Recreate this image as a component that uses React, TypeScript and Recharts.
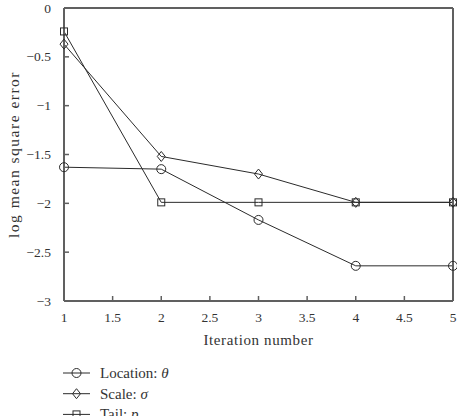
import React from 'react';
import { LineChart, Line, XAxis, YAxis, Legend } from 'recharts';

const iterations = [1, 2, 3, 4, 5];
const locationTheta = [-1.63, -1.65, -2.17, -2.64, -2.64];
const scaleSigma = [-0.37, -1.52, -1.7, -1.99, -1.99];
const tailP = [-0.24, -1.99, -1.99, -1.99, -1.99];
const xTicks = [1, 1.5, 2, 2.5, 3, 3.5, 4, 4.5, 5];
const yTicks = [0, -0.5, -1, -1.5, -2, -2.5, -3];
const seriesKeys = ['loc', 'scale', 'tail'];
const seriesNames = ['Location', 'Scale', 'Tail'];
const seriesSymbols = ['θ', 'σ', 'p'];
const seriesMarkers = ['circle', 'diamond', 'square'];

const data = iterations.map((it, i) => ({
  it,
  loc: locationTheta[i],
  scale: scaleSigma[i],
  tail: tailP[i],
}));

const LINE = '#2b2b2b';
const AXIS = '#606060';
const TEXT = '#333333';
const FONT = '"Liberation Serif", "DejaVu Serif", serif';
const textStyle = { fontFamily: FONT, fontSize: 13.5, fill: TEXT };
const axisLineStyle = { stroke: AXIS, strokeWidth: 2 };
const tickLineStyle = { stroke: AXIS, strokeWidth: 1.5 };

const fmt = (v: number) => String(v).replace('-', '\u2212');

const Marker = ({ kind, cx, cy }: { kind: string; cx: number; cy: number }) => {
  if (kind === 'circle') {
    return <circle cx={cx} cy={cy} r={4.5} fill="none" stroke={LINE} strokeWidth={1} />;
  }
  if (kind === 'diamond') {
    return (
      <polygon
        points={`${cx},${cy - 5} ${cx + 4},${cy} ${cx},${cy + 5} ${cx - 4},${cy}`}
        fill="none"
        stroke={LINE}
        strokeWidth={1}
      />
    );
  }
  return <rect x={cx - 3.5} y={cy - 3.5} width={7} height={7} fill="none" stroke={LINE} strokeWidth={1} />;
};

const makeDot = (kind: string) => (props: any) => (
  <Marker key={`${kind}-${props.index}`} kind={kind} cx={props.cx} cy={props.cy} />
);

const renderXTick = (props: any) => {
  const { x, y, payload } = props;
  return (
    <text key={`xt-${payload.value}`} x={x} y={y + 10} textAnchor="middle" style={textStyle}>
      {fmt(payload.value)}
    </text>
  );
};

const renderYTick = (props: any) => {
  const { x, y, payload } = props;
  return (
    <text key={`yt-${payload.value}`} x={x} y={y + 4.5} textAnchor="end" style={textStyle}>
      {fmt(payload.value)}
    </text>
  );
};

const renderLegend = () => (
  <svg width={200} height={64} style={{ display: 'block', overflow: 'visible' }}>
    {seriesNames.map((n, i) => {
      const y = 10 + i * 20.7;
      return (
        <g key={n}>
          <line x1={63} x2={90} y1={y} y2={y} stroke={LINE} strokeWidth={1} />
          <Marker kind={seriesMarkers[i]} cx={76.5} cy={y} />
          <text x={100} y={y + 5} style={{ fontFamily: FONT, fontSize: 15, fill: TEXT }}>
            {n}: <tspan style={{ fontStyle: 'italic' }}>{seriesSymbols[i]}</tspan>
          </text>
        </g>
      );
    })}
  </svg>
);

export default function App() {
  return (
    <div style={{ position: 'absolute', left: 0, top: 0, fontFamily: FONT }}>
      <LineChart
        width={457}
        height={416}
        data={data}
        margin={{ top: 7, right: 3, left: 0, bottom: 85 }}
      >
        <XAxis
          xAxisId="bottom"
          dataKey="it"
          type="number"
          domain={[1, 5]}
          ticks={xTicks}
          interval={0}
          height={30}
          tickSize={-5}
          tickMargin={16}
          tick={renderXTick}
          axisLine={axisLineStyle}
          tickLine={tickLineStyle}
          label={{
            value: 'Iteration number',
            position: 'bottom',
            offset: 3,
            style: { fontFamily: FONT, fontSize: 15, letterSpacing: 0.6, fill: TEXT },
          }}
        />
        <XAxis
          xAxisId="top"
          orientation="top"
          dataKey="it"
          type="number"
          domain={[1, 5]}
          ticks={xTicks}
          interval={0}
          height={1}
          tickSize={-5}
          tick={false}
          axisLine={axisLineStyle}
          tickLine={tickLineStyle}
        />
        <YAxis
          yAxisId="left"
          type="number"
          domain={[-3, 0]}
          ticks={yTicks}
          interval={0}
          width={64}
          tickSize={-5}
          tickMargin={18}
          tick={renderYTick}
          axisLine={axisLineStyle}
          tickLine={tickLineStyle}
          label={{
            value: 'log mean square error',
            angle: -90,
            position: 'insideLeft',
            offset: 13,
            style: { fontFamily: FONT, fontSize: 15.5, letterSpacing: 1.5, fill: TEXT, textAnchor: 'middle' },
          }}
        />
        <YAxis
          yAxisId="right"
          orientation="right"
          type="number"
          domain={[-3, 0]}
          ticks={yTicks}
          interval={0}
          width={1}
          tickSize={-5}
          tick={false}
          axisLine={axisLineStyle}
          tickLine={tickLineStyle}
        />
        <Legend
          layout="vertical"
          verticalAlign="middle"
          align="center"
          content={renderLegend}
          wrapperStyle={{ left: 0, top: 362.7, width: 200, height: 64 }}
        />
        <Line
          xAxisId="top"
          yAxisId="right"
          dataKey="tail"
          stroke="none"
          dot={false}
          activeDot={false}
          legendType="none"
          isAnimationActive={false}
        />
        {seriesKeys.map((k, i) => (
          <Line
            key={k}
            xAxisId="bottom"
            yAxisId="left"
            dataKey={k}
            name={seriesNames[i]}
            type="linear"
            stroke={LINE}
            strokeWidth={1}
            dot={makeDot(seriesMarkers[i])}
            activeDot={false}
            isAnimationActive={false}
          />
        ))}
      </LineChart>
    </div>
  );
}
